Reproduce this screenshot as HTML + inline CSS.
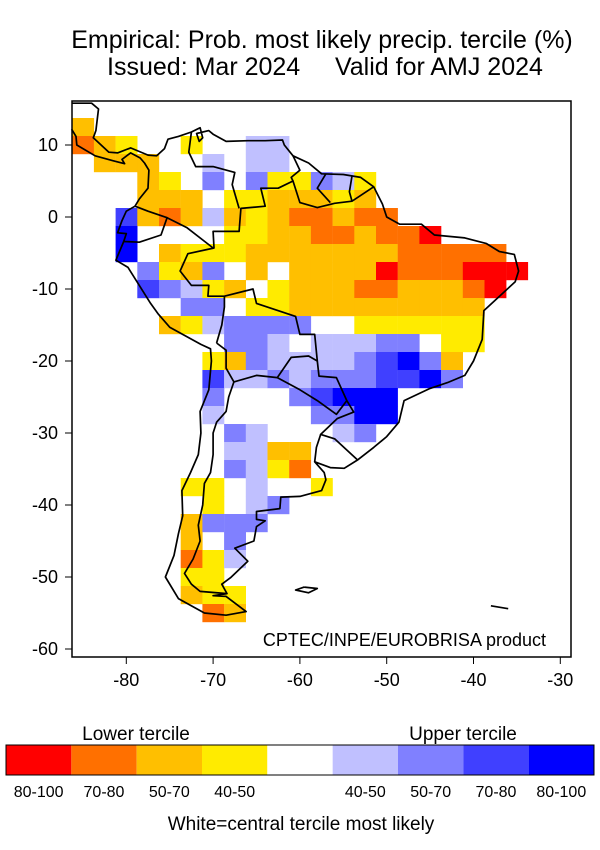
<!DOCTYPE html>
<html><head><meta charset="utf-8"><style>
html,body{margin:0;padding:0;background:#fff;}
body{width:600px;height:850px;overflow:hidden;font-family:"Liberation Sans",sans-serif;}
</style></head><body>
<svg id="s" width="600" height="850" xmlns="http://www.w3.org/2000/svg" style="position:absolute;left:0;top:0">
<g id="cells"></g>
<g id="lines" fill="none" stroke="#000" stroke-width="1.7" stroke-linejoin="round"></g>
<rect x="72" y="101" width="499" height="556" fill="none" stroke="#000" stroke-width="1.5"/>
<g font-size="25" text-anchor="middle" fill="#000">
<text x="322" y="48">Empirical: Prob. most likely precip. tercile (%)</text>
<text x="325" y="75" xml:space="preserve">Issued: Mar 2024     Valid for AMJ 2024</text>
</g>
<g id="ax" font-size="18" fill="#000"></g>
<text x="546" y="646" font-size="18" text-anchor="end">CPTEC/INPE/EUROBRISA product</text>
<g font-size="19" text-anchor="middle">
<text x="136" y="740">Lower tercile</text>
<text x="463" y="740">Upper tercile</text>
<text x="301" y="830">White=central tercile most likely</text>
</g>
<g id="cb"></g>
</svg>
<script>
var NS="http://www.w3.org/2000/svg";
function X(lon){return 126.3+(lon+80)*8.68;}
function Y(lat){return 217-lat*7.2;}
var col={R:"#ff0000",D:"#ff7000",O:"#ffbf00",Y:"#ffeb00",L:"#c0c0ff",M:"#8080ff",B:"#4040ff",K:"#0000ff"};
var rows=[
"O",
"DOY..Y..LL",
".OOO..L.LL",
"...OY.M.MYYMLY",
"...OOO.YYOOOYO",
"..BODOLOYODDODD",
"..K....YYOODDODDR",
"..K.OYYYOOOOOOODDDDD",
"...MYOM.O.OOOORDDDRRR",
"...BMLYO.YOOODDOOODR",
".....MM.YYOOOOOOOOO",
"....OYLMMMM..YYYYYY",
".......MML.LLLMM.YY",
"......YOMLLLLMBKMO",
"......BLLMLMMMBBKM",
"......M...MBKKK",
"......L....MMKK",
".......ML...LM",
".......LLOO",
".......MLYD",
".....YY.L..Y",
"......Y.LM",
".....OMMM",
".....O.M",
".....DYL",
".....YY",
".....OYY",
"......DO"];
var g=document.getElementById("cells");
rows.forEach(function(s,r){for(var c=0;c<s.length;c++){var ch=s[c];if(col[ch]){var e=document.createElementNS(NS,"rect");
e.setAttribute("x",(72.2+21.7*c).toFixed(1));e.setAttribute("y",118+18*r);e.setAttribute("width","21.9");e.setAttribute("height","18.2");e.setAttribute("fill",col[ch]);g.appendChild(e);}}});
var L=[
[[-86.3,15.8],[-84,15.8],[-83.2,15],[-83.5,12],[-83.8,11],[-82,9],[-81,8.9],[-79.5,9.6],[-77.5,8.6],[-76.5,8.5],[-75.6,9.5],[-75.2,10.8],[-74,11.2],[-72.5,11.8],[-71.5,12.4],[-71.2,11],[-71.6,10.5],[-71.9,11.6],[-70.5,12],[-70,11.5],[-68.5,10.5],[-66,10.6],[-64,10.6],[-62,10.7],[-61.8,10],[-60.8,8.5],[-59,7.5],[-57.5,6],[-55,5.9],[-53,5.5],[-51.5,4.2],[-50.5,1.8],[-50,0],[-48.5,-1],[-46,-1],[-44.5,-2.5],[-41,-2.9],[-38.5,-3.7],[-37,-4.8],[-35.3,-5.2],[-34.8,-7.5],[-35.2,-9],[-37,-11],[-38.8,-13],[-39,-17],[-40,-20],[-41,-22],[-43,-23],[-45,-23.8],[-48,-25.5],[-48.6,-28.5],[-50,-30.5],[-51.5,-32],[-53.3,-33.7],[-54.9,-34.9],[-56.5,-34.8],[-58.3,-34],[-57.2,-35.5],[-57,-36.5],[-57.5,-38],[-60,-38.8],[-62.2,-38.9],[-62.3,-40.5],[-65,-40.9],[-65,-42],[-64,-42.2],[-65,-43],[-65.3,-45],[-67.5,-46],[-66,-47.8],[-68,-50.1],[-69,-51],[-68.4,-52.3],[-70,-52.6],[-68.5,-52.7],[-66.2,-54.8],[-68.5,-55.3],[-71,-55],[-74,-53],[-75.5,-50],[-74.5,-47],[-74,-44],[-73.5,-41.5],[-73.6,-38],[-72.6,-35.5],[-71.7,-33],[-71.4,-30],[-71.5,-27],[-70.5,-24],[-70.2,-20],[-70.3,-18.3],[-71.4,-17.7],[-75,-15.3],[-76.3,-13.5],[-77.2,-12],[-78.5,-9.5],[-79.8,-7],[-81.2,-6],[-80.3,-3.4],[-80,-2.3],[-81,-2.2],[-80.5,-0.5],[-80,0.8],[-79,1.5],[-78.5,2.5],[-77.5,4],[-77.4,6.5],[-77.9,7.5],[-78.4,8.2],[-79.5,8.9],[-80.5,8],[-80.2,7.4],[-81.5,7.8],[-83.6,8.5],[-85.7,10],[-85.8,11.2],[-86.3,12.2]],
[[-51.5,4.2],[-54,2.2],[-56,1.9],[-58,1.3],[-60,2],[-60.8,5],[-62.5,4],[-64.5,4],[-64,1.5],[-66.8,1.2],[-67,-2],[-70,-2],[-69.9,-4.3],[-72.9,-5.1],[-73.8,-7.5],[-72.5,-9.5],[-70.5,-9.5],[-70.6,-11],[-68.7,-11],[-65.4,-10],[-65,-12],[-60.5,-13.8],[-60,-16.3],[-58.3,-16.3],[-58,-20],[-57.8,-22.1],[-55.8,-22.3],[-54.6,-25.5],[-53.8,-27.1],[-55.7,-28],[-57.6,-30.2],[-56,-30.8],[-53.4,-33.7]],
[[-69.6,-17.5],[-68.5,-18.5],[-68.5,-21],[-67.6,-22.9],[-68.2,-25],[-68.5,-27],[-69.6,-28.5],[-70,-30],[-70,-33],[-70.3,-35.5],[-71,-37],[-71.2,-40],[-71.7,-42.8],[-71.5,-45],[-72.3,-47.5],[-73.3,-49.5],[-72.5,-51],[-71.5,-52],[-68.4,-52.3]],
[[-67.6,-22.9],[-65,-22],[-62.6,-22.3],[-61,-19.5],[-59,-19.3],[-58,-20]],
[[-62.6,-22.3],[-60,-24],[-58,-25.5],[-55.8,-27.4],[-54.6,-25.5]],
[[-58.3,-34],[-58.1,-32],[-57.6,-30.2]],
[[-80.3,-3.4],[-78.5,-3.5],[-76,-2.5],[-75.3,-0.1],[-77.5,0.8],[-79,1.5]],
[[-75.3,-0.1],[-73,-1.5],[-70,-4.3]],
[[-72.5,11.8],[-72.8,9],[-72,7],[-70,7],[-67.5,6.2],[-67.8,4.5],[-67,1.2]],
[[-60.8,8.5],[-60,6.5],[-61,5.5],[-60.8,5]],
[[-57,6],[-58,4],[-56.5,2]],
[[-54,5.7],[-54.3,3.5],[-54,2.2]],
[[-69.6,-17.5],[-69,-15],[-68.7,-12.5],[-68.7,-11]],
[[-59.5,-51.4],[-58,-51.6],[-59,-52.2],[-60.5,-51.8],[-59.5,-51.4]],
[[-38,-54],[-36,-54.4]]];
var lg=document.getElementById("lines");
L.forEach(function(p){var e=document.createElementNS(NS,"polyline");e.setAttribute("points",p.map(function(q){return X(q[0]).toFixed(1)+","+Y(q[1]).toFixed(1);}).join(" "));lg.appendChild(e);});
var ax=document.getElementById("ax"),h="";
[10,0,-10,-20,-30,-40,-50,-60].forEach(function(v){var y=Y(v);h+='<line x1="65" x2="72" y1="'+y+'" y2="'+y+'" stroke="#000"/><text x="58" y="'+(y+6)+'" text-anchor="end">'+v+'</text>';});
[-80,-70,-60,-50,-40,-30].forEach(function(v){var x=X(v);h+='<line x1="'+x+'" x2="'+x+'" y1="657" y2="664" stroke="#000"/><text x="'+x+'" y="686" text-anchor="middle">'+v+'</text>';});
ax.innerHTML=h;
var cb=document.getElementById("cb"),cc=["#ff0000","#ff7000","#ffbf00","#ffeb00","#ffffff","#c0c0ff","#8080ff","#4040ff","#0000ff"],lab=["80-100","70-80","50-70","40-50","","40-50","50-70","70-80","80-100"],w=588/9,hh="";
cc.forEach(function(c,i){hh+='<rect x="'+(6+i*w)+'" y="745" width="'+w+'" height="30" fill="'+c+'"/>';if(lab[i])hh+='<text x="'+(6+i*w+w/2)+'" y="797" font-size="16" text-anchor="middle">'+lab[i]+'</text>';});
hh+='<rect x="6" y="745" width="588" height="30" fill="none" stroke="#000" stroke-width="1"/>';
cb.innerHTML=hh;
</script>
</body></html>
